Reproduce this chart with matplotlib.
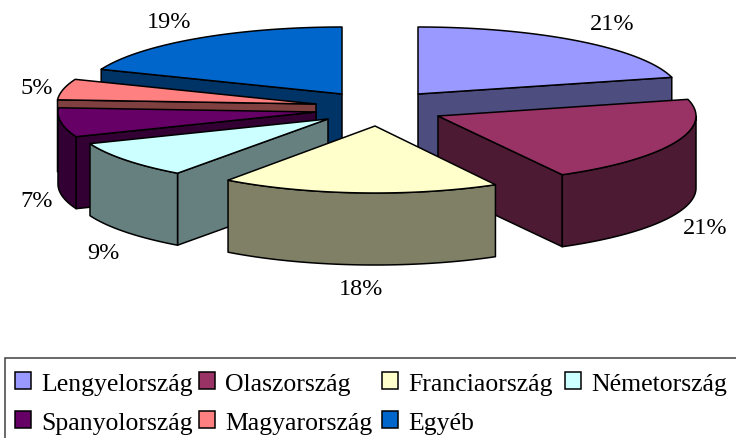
import numpy as np
import matplotlib
matplotlib.use("Agg")
import matplotlib.pyplot as plt
from matplotlib.patches import Polygon, Rectangle

plt.rcParams["font.family"] = ["Liberation Serif", "DejaVu Serif"]

countries = ["Lengyelország", "Olaszország", "Franciaország", "Németország",
             "Spanyolország", "Magyarország", "Egyéb"]
shares = [21, 21, 18, 9, 7, 5, 19]

top_colors = ["#9999FF", "#993366", "#FFFFCC", "#CCFFFF", "#660066", "#FF8080", "#0066CC"]
side_colors = ["#4D4D80", "#4D1A33", "#808066", "#668080", "#330033", "#804040", "#003366"]

# layout, in pixels of the output picture
W, H = 736, 439
RY, DEPTH = 67, 72
radius_x = [262, 258, 250, 256, 258, 259, 259]
apex_x = [418, 438, 375, 328, 316, 316, 342]
apex_y = [95, 117, 127, 120, 113, 105, 95]
draw_order = [0, 6, 5, 4, 3, 1, 2]
label_x = [612, 705, 361, 103, 37, 37, 169]
label_y = [25, 229, 290, 254, 202, 89, 23]
legend_x = [15, 199, 382, 565, 15, 199, 382]
legend_y = [385, 385, 385, 385, 424, 424, 424]


def rim(cx, cy, rx, a0, a1):
    # angles go clockwise from 12 o'clock
    t = np.radians(np.linspace(a0, a1, max(int(abs(a1 - a0) * 2), 2)))
    return np.column_stack([cx + rx * np.sin(t), cy - RY * np.cos(t)])


def wall(ax, pts, color):
    low = pts[::-1] + [0, DEPTH]
    ax.add_patch(Polygon(np.vstack([pts, low]), closed=True, fc=color, ec="black",
                         lw=1.1, joinstyle="round"))


fig = plt.figure(figsize=(W / 100, H / 100), dpi=100)
ax = fig.add_axes([0, 0, 1, 1])
ax.set_xlim(0, W)
ax.set_ylim(H, 0)
ax.axis("off")

edges = np.concatenate([[0], np.cumsum(shares)]) * 3.6

for i in draw_order:
    cx, cy, rx = apex_x[i], apex_y[i], radius_x[i]
    a0, a1 = edges[i], edges[i + 1]
    apex = np.array([[cx, cy]])

    # only the faces turned towards the viewer
    if np.sin(np.radians(a0)) < 0:
        wall(ax, np.vstack([apex, rim(cx, cy, rx, a0, a0)[:1]]), side_colors[i])
    if np.sin(np.radians(a1)) > 0:
        wall(ax, np.vstack([apex, rim(cx, cy, rx, a1, a1)[:1]]), side_colors[i])
    lo, hi = max(a0, 90), min(a1, 270)
    if hi > lo:
        wall(ax, rim(cx, cy, rx, lo, hi), side_colors[i])

    ax.add_patch(Polygon(np.vstack([apex, rim(cx, cy, rx, a0, a1)]), closed=True,
                         fc=top_colors[i], ec="black", lw=1.1, joinstyle="round"))

for i, s in enumerate(shares):
    ax.text(label_x[i], label_y[i], "%d%%" % s, fontsize=17.5, color="black",
            ha="center", va="center")

# legend box runs off the right and bottom edges
ax.add_patch(Rectangle((5, 359), W + 20, H, fc="white", ec="#404040", lw=1.1))
for i, name in enumerate(countries):
    ax.add_patch(Rectangle((legend_x[i], legend_y[i] - 12), 16, 17, fc=top_colors[i],
                           ec="black", lw=1.1))
    ax.text(legend_x[i] + 26, legend_y[i], name, fontsize=18.5, color="black",
            ha="left", va="center")

fig.savefig("out.png", dpi=100)
plt.close(fig)
